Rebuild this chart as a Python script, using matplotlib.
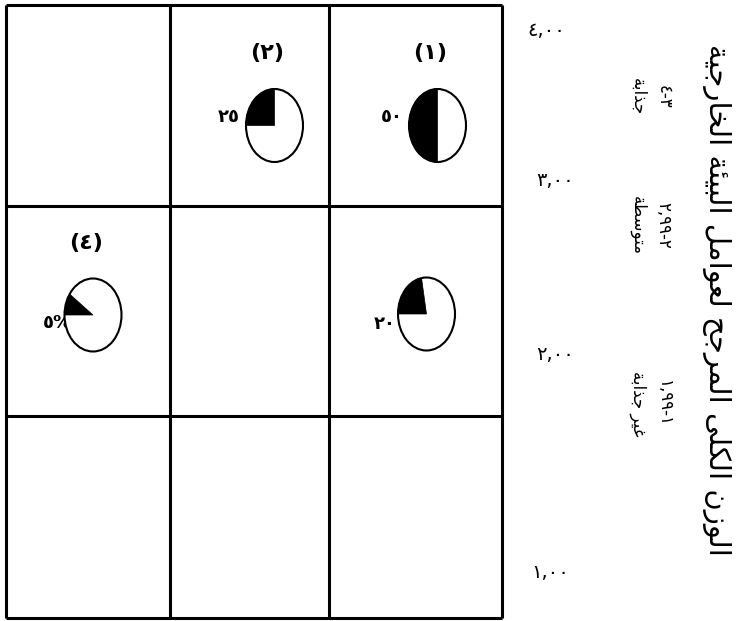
import numpy as np
import matplotlib.pyplot as plt
from matplotlib.patches import Ellipse, Polygon

# --- data ---
pie_labels = ['(١)', '(٢)', None, '(٤)']
pie_values = ['٥٠', '٢٥', '٢٠', '٥%']
pie_cells = [(0, 2), (0, 1), (1, 2), (1, 0)]           # (row, col)
wedge_from = [90, 90, 100, 145]                          # drawn wedge, degrees
wedge_to = [270, 180, 180, 180]

y_ticks = ['٤,٠٠', '٣,٠٠', '٢,٠٠', '١,٠٠']
band_ranges = ['٤-٣', '٢,٩٩-٢', '١,٩٩-١']
band_names = ['جذابة', 'متوسطة', 'غير جذابة']
title = 'الوزن الكلى المرجح لعوامل البيئة الخارجية'

# --- layout (pixels) ---
col_edges = [6, 170, 329, 502]
row_edges = [5, 206, 416, 618]
pie_dx = [22, 25, 11, 5]
pie_dy = [20, 20, 3, 4]
a, b = 28.5, 36.5
tick_x = [527, 536, 536, 531]
tick_y = [30, 180, 355, 572]
band_y = [97, 225, 404]

# minimal arabic shaping (presentation forms B) + reversal for LTR drawing
forms = {'ا': (0xFE8D, 2), 'ب': (0xFE8F, 4), 'ة': (0xFE93, 2), 'ت': (0xFE95, 4),
         'ج': (0xFE9D, 4), 'ح': (0xFEA1, 4), 'خ': (0xFEA5, 4), 'د': (0xFEA9, 2),
         'ذ': (0xFEAB, 2), 'ر': (0xFEAD, 2), 'ز': (0xFEAF, 2), 'س': (0xFEB1, 4),
         'ط': (0xFEC1, 4), 'ع': (0xFEC9, 4), 'غ': (0xFECD, 4), 'ك': (0xFED9, 4),
         'ل': (0xFEDD, 4), 'م': (0xFEE1, 4), 'ن': (0xFEE5, 4), 'ه': (0xFEE9, 4),
         'و': (0xFEED, 2), 'ى': (0xFEEF, 2), 'ي': (0xFEF1, 4), 'ئ': (0xFE89, 4)}

def shape(s):
    out = []
    for i, ch in enumerate(s):
        if ch not in forms:
            out.append(ch)
            continue
        base, n = forms[ch]
        prev = s[i-1] if i > 0 else ''
        nxt = s[i+1] if i+1 < len(s) else ''
        jp = prev in forms and forms[prev][1] == 4
        jn = n == 4 and nxt in forms
        if jp and jn:
            cp = base + 3
        elif jp:
            cp = base + 1
        elif jn:
            cp = base + 2
        else:
            cp = base
        out.append(chr(cp))
    return ''.join(out)[::-1]

fig = plt.figure(figsize=(7.36, 6.21), dpi=100)
ax = fig.add_axes([0, 0, 1, 1])
ax.set_xlim(0, 736)
ax.set_ylim(621, 0)
ax.axis('off')

ax.vlines(col_edges, row_edges[0], row_edges[-1], color='black', lw=2.2)
ax.hlines(row_edges, col_edges[0], col_edges[-1], color='black', lw=2.2)

for k, (r, c) in enumerate(pie_cells):
    cx = (col_edges[c] + col_edges[c+1]) / 2 + pie_dx[k]
    cy = (row_edges[r] + row_edges[r+1]) / 2 + pie_dy[k]
    ax.add_patch(Ellipse((cx, cy), 2*a, 2*b, facecolor='white', edgecolor='none', zorder=3))
    t = np.radians(np.linspace(wedge_from[k], wedge_to[k], 80))
    pts = np.column_stack([cx + a*np.cos(t), cy - b*np.sin(t)])
    pts = np.vstack([[cx, cy], pts])
    ax.add_patch(Polygon(pts, closed=True, facecolor='black', edgecolor='black', lw=0.5, zorder=4))
    ax.add_patch(Ellipse((cx, cy), 2*a, 2*b, facecolor='none', edgecolor='black', lw=1.5, zorder=5))
    if pie_labels[k]:
        ax.text(cx - 7, cy - 72, pie_labels[k], ha='center', va='center',
                fontsize=16, fontweight='bold')
    if k < 2:
        ax.text(cx - a - 6, cy - 8, pie_values[k], ha='right', va='center',
                fontsize=13, fontweight='bold', zorder=2)
    elif k == 2:
        ax.text(cx - a - 2, cy + 10, pie_values[k], ha='right', va='center',
                fontsize=13, fontweight='bold', zorder=2)
    else:
        ax.text(cx - a + 8, cy + 8, pie_values[k], ha='right', va='center',
                fontsize=13, fontweight='bold', zorder=2)

for lab, x, y in zip(y_ticks, tick_x, tick_y):
    ax.text(x, y, lab, ha='left', va='center', fontsize=14)

for rng, name, y in zip(band_ranges, band_names, band_y):
    ax.text(651, y, rng + '\n' + shape(name), rotation=-90, ha='center', va='center',
            multialignment='center', fontsize=12, linespacing=1.5)

ax.text(716, 300, shape(title), rotation=-90, ha='center', va='center', fontsize=21)

plt.savefig('out.png', dpi=100)
